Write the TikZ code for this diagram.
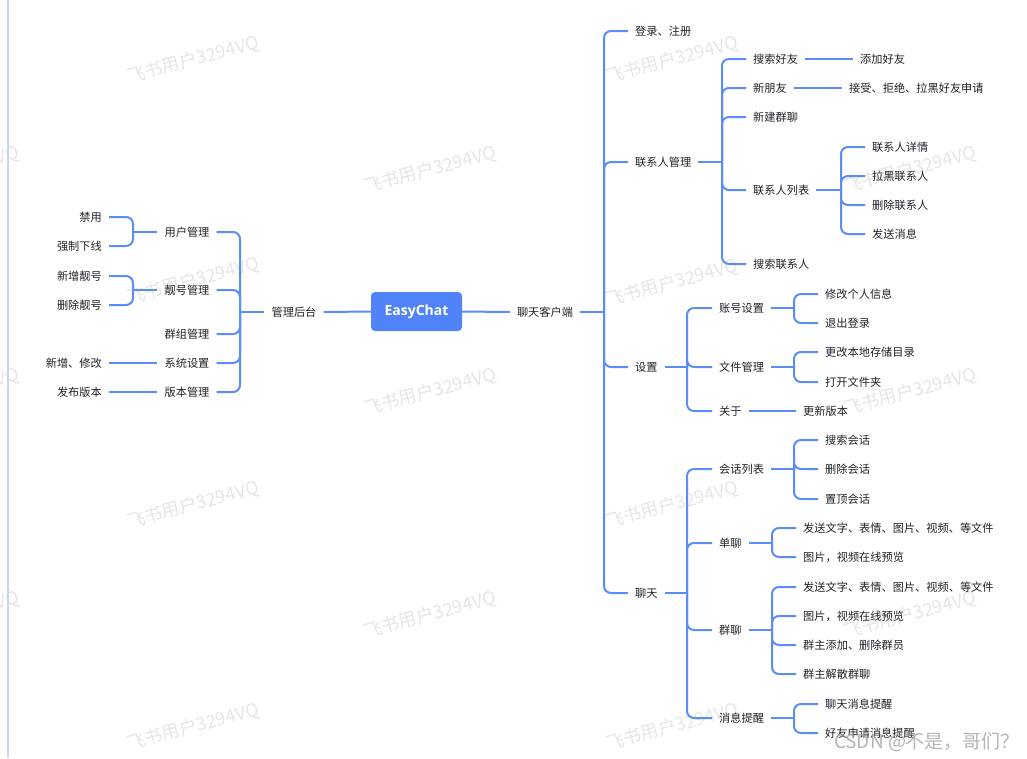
\documentclass[tikz,border=0pt]{standalone}
\usepackage{fontspec}
\setmainfont{Noto Sans CJK SC}
\newfontfamily\rootfont{Open Sans}
\definecolor{lc}{HTML}{5B8DF8}
\definecolor{rc}{HTML}{4F83F7}
\definecolor{tc}{HTML}{1F2329}
\definecolor{wmc}{HTML}{E6E6E6}
\definecolor{framec}{HTML}{C6D6FB}
\definecolor{csdn}{HTML}{A8A8A8}
\begin{document}
\begin{tikzpicture}[x=1pt,y=-1pt,
  conn/.style={draw=lc, line width=2pt, rounded corners=7pt},
  txt/.style={font=\fontsize{11.2}{13}\selectfont, text=tc, inner xsep=7pt, inner ysep=2pt},
  wm/.style={font=\fontsize{18}{20}\selectfont, text=wmc, rotate=15, inner sep=0pt},
  rootbox/.style={fill=rc, rounded corners=4pt, minimum width=91pt, minimum height=39pt, inner sep=0pt, text=white, font=\rootfont\bfseries\fontsize{14}{16}\selectfont}]
\useasboundingbox (0,0) rectangle (1027,758);
\fill[white] (0,0) rectangle (1027,758);
% watermarks
\begin{scope}
\clip (0,0) rectangle (1027,758);
\foreach \px/\py [count=\i] in {193/60,193/281,193/505,193/727,672/60,672/283,672/505,672/727,430/170,430/392,430/615,910/170,910/392,910/615,-47/170,-47/392,-47/615}
  \node[wm] (wm\i) at (\px,\py) {飞书用户3294VQ};
\end{scope}
% frame line
\draw[draw=framec, line width=2pt] (8,0) -- (8,758);
% root
\node[rootbox] (root) at (416.5,311.5) {EasyChat};
% ---------- left side
\node[txt] (gl) at (294,312) {管理后台};
\node[txt] (yh) at (187,232) {用户管理};
\node[txt] (lh) at (187,290) {靓号管理};
\node[txt] (qz) at (187,334) {群组管理};
\node[txt] (xt) at (187,363) {系统设置};
\node[txt] (bb) at (187,392) {版本管理};
\node[txt,anchor=east] (jy) at (109,217) {禁用};
\node[txt,anchor=east] (qzxx) at (109,246) {强制下线};
\node[txt,anchor=east] (xzlh) at (109,276) {新增靓号};
\node[txt,anchor=east] (sclh) at (109,305) {删除靓号};
\node[txt,anchor=east] (xzxg) at (109,363) {新增、修改};
\node[txt,anchor=east] (fbbb) at (109,392) {发布版本};
\draw[conn] (root.west) -- (gl.east);
\coordinate (bgl) at (240,0 |- gl);
\draw[conn] (gl.west) -- (bgl);
\foreach \c in {yh,lh,qz,xt,bb} \draw[conn] (bgl) |- (\c.east);
\coordinate (byh) at (133,0 |- yh);
\draw[conn] (yh.west) -- (byh);
\foreach \c in {jy,qzxx} \draw[conn] (byh) |- (\c.east);
\coordinate (blh) at (133,0 |- lh);
\draw[conn] (lh.west) -- (blh);
\foreach \c in {xzlh,sclh} \draw[conn] (blh) |- (\c.east);
\draw[conn] (xt.west) -- (xzxg.east);
\draw[conn] (bb.west) -- (fbbb.east);
% ---------- right side
\node[txt] (kh) at (545,312) {聊天客户端};
\draw[conn] (root.east) -- (kh.west);
\coordinate (bkh) at (604,0 |- kh);
\draw[conn] (kh.east) -- (bkh);
\node[txt,anchor=west] (dl) at (628,31) {登录、注册};
\node[txt,anchor=west] (lx) at (628,162) {联系人管理};
\node[txt,anchor=west] (sz) at (628,367) {设置};
\node[txt,anchor=west] (lt) at (628,593) {聊天};
\foreach \c in {dl,lx,sz,lt} \draw[conn] (bkh) |- (\c.west);
% contacts
\node[txt,anchor=west] (ssh) at (746,59) {搜索好友};
\node[txt,anchor=west] (xpy) at (746,88) {新朋友};
\node[txt,anchor=west] (xjq) at (746,117) {新建群聊};
\node[txt,anchor=west] (lxlb) at (746,190) {联系人列表};
\node[txt,anchor=west] (sslx) at (746,264) {搜索联系人};
\coordinate (blx) at (722,0 |- lx);
\draw[conn] (lx.east) -- (blx);
\foreach \c in {ssh,xpy,xjq,lxlb,sslx} \draw[conn] (blx) |- (\c.west);
\node[txt,anchor=west] (tjhy) at (853,59) {添加好友};
\draw[conn] (ssh.east) -- (tjhy.west);
\node[txt,anchor=west] (js) at (842,88) {接受、拒绝、拉黑好友申请};
\draw[conn] (xpy.east) -- (js.west);
\node[txt,anchor=west] (xq) at (865,147) {联系人详情};
\node[txt,anchor=west] (lhlx) at (865,176) {拉黑联系人};
\node[txt,anchor=west] (sclx) at (865,205) {删除联系人};
\node[txt,anchor=west] (fsxx) at (865,234) {发送消息};
\coordinate (blxlb) at (841,0 |- lxlb);
\draw[conn] (lxlb.east) -- (blxlb);
\foreach \c in {xq,lhlx,sclx,fsxx} \draw[conn] (blxlb) |- (\c.west);
% settings
\node[txt,anchor=west] (zh) at (712,308) {账号设置};
\node[txt,anchor=west] (wj) at (712,367) {文件管理};
\node[txt,anchor=west] (gy) at (712,411) {关于};
\coordinate (bsz) at (687,0 |- sz);
\draw[conn] (sz.east) -- (bsz);
\foreach \c in {zh,wj,gy} \draw[conn] (bsz) |- (\c.west);
\node[txt,anchor=west] (xg) at (818,294) {修改个人信息};
\node[txt,anchor=west] (tc) at (818,323) {退出登录};
\coordinate (bzh) at (794,0 |- zh);
\draw[conn] (zh.east) -- (bzh);
\foreach \c in {xg,tc} \draw[conn] (bzh) |- (\c.west);
\node[txt,anchor=west] (gg) at (818,352) {更改本地存储目录};
\node[txt,anchor=west] (dk) at (818,382) {打开文件夹};
\coordinate (bwj) at (794,0 |- wj);
\draw[conn] (wj.east) -- (bwj);
\foreach \c in {gg,dk} \draw[conn] (bwj) |- (\c.west);
\node[txt,anchor=west] (gx) at (796,411) {更新版本};
\draw[conn] (gy.east) -- (gx.west);
% chat
\node[txt,anchor=west] (hh) at (712,469) {会话列表};
\node[txt,anchor=west] (dq) at (712,543) {单聊};
\node[txt,anchor=west] (ql) at (712,630) {群聊};
\node[txt,anchor=west] (xx) at (712,718) {消息提醒};
\coordinate (blt) at (687,0 |- lt);
\draw[conn] (lt.east) -- (blt);
\foreach \c in {hh,dq,ql,xx} \draw[conn] (blt) |- (\c.west);
\node[txt,anchor=west] (sshh) at (818,440) {搜索会话};
\node[txt,anchor=west] (schh) at (818,469) {删除会话};
\node[txt,anchor=west] (zdhh) at (818,499) {置顶会话};
\coordinate (bhh) at (794,0 |- hh);
\draw[conn] (hh.east) -- (bhh);
\foreach \c in {sshh,schh,zdhh} \draw[conn] (bhh) |- (\c.west);
\node[txt,anchor=west] (dqa) at (796,528) {发送文字、表情、图片、视频、等文件};
\node[txt,anchor=west] (dqb) at (796,557) {图片，视频在线预览};
\coordinate (bdq) at (772,0 |- dq);
\draw[conn] (dq.east) -- (bdq);
\foreach \c in {dqa,dqb} \draw[conn] (bdq) |- (\c.west);
\node[txt,anchor=west] (qla) at (796,587) {发送文字、表情、图片、视频、等文件};
\node[txt,anchor=west] (qlb) at (796,616) {图片，视频在线预览};
\node[txt,anchor=west] (qlc) at (796,645) {群主添加、删除群员};
\node[txt,anchor=west] (qld) at (796,674) {群主解散群聊};
\coordinate (bql) at (772,0 |- ql);
\draw[conn] (ql.east) -- (bql);
\foreach \c in {qla,qlb,qlc,qld} \draw[conn] (bql) |- (\c.west);
\node[txt,anchor=west] (xxa) at (818,704) {聊天消息提醒};
\node[txt,anchor=west] (xxb) at (818,733) {好友申请消息提醒};
\coordinate (bxx) at (794,0 |- xx);
\draw[conn] (xx.east) -- (bxx);
\foreach \c in {xxa,xxb} \draw[conn] (bxx) |- (\c.west);
% csdn watermark
\node[font=\fontsize{19}{21}\selectfont, text=csdn, opacity=0.85, inner sep=0pt] (csdnwm) at (927,742) {CSDN @不是，哥们？};
\end{tikzpicture}
\end{document}
